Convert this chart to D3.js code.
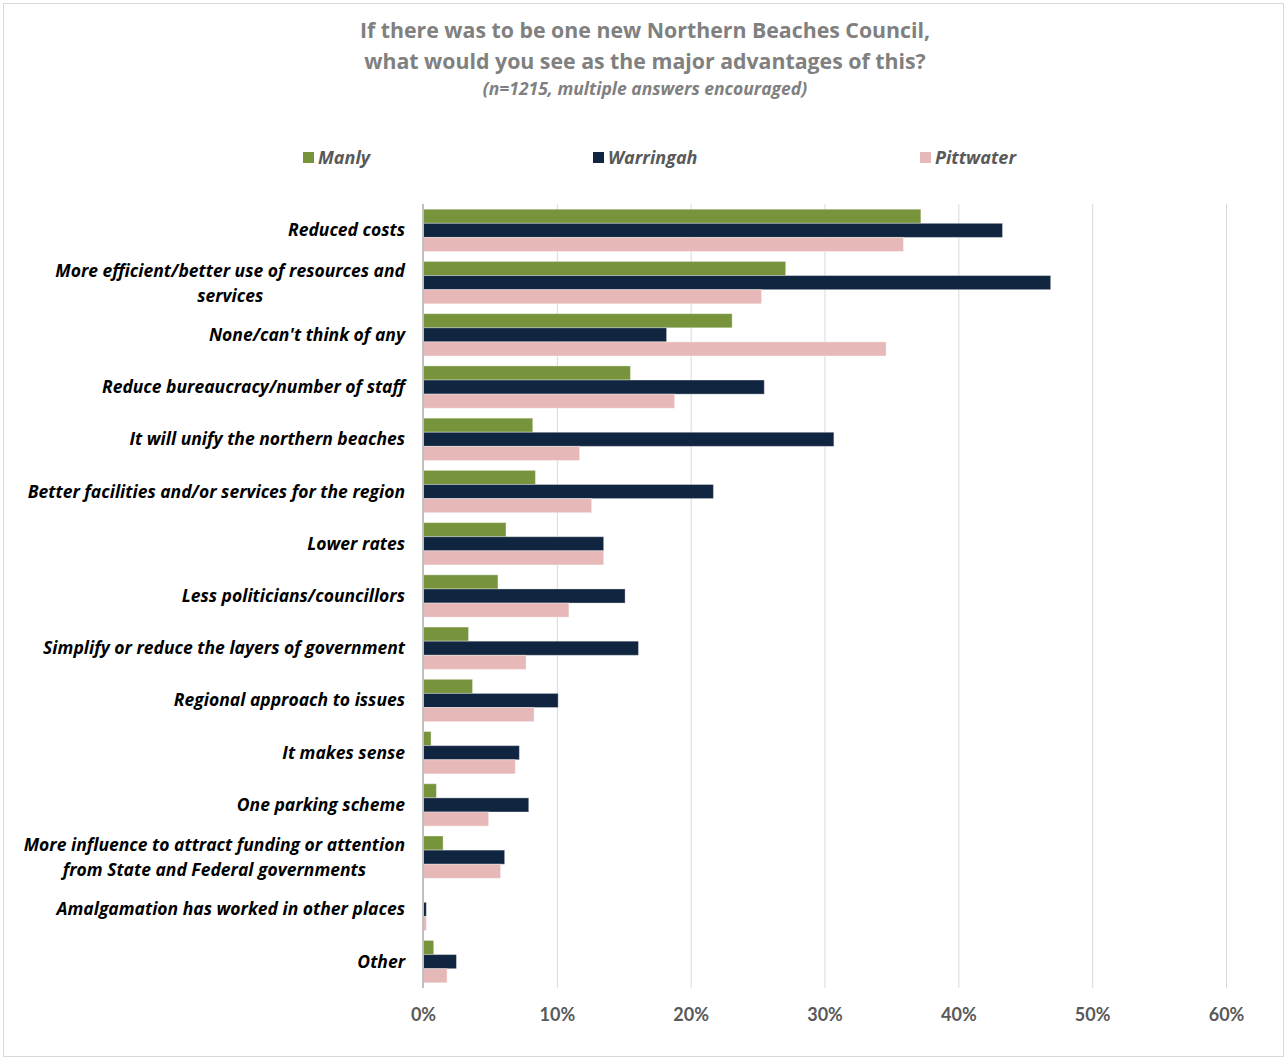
<!DOCTYPE html>
<html><head><meta charset="utf-8">
<script src="https://cdn.jsdelivr.net/npm/d3@7"></script>
<style>body{margin:0;background:#fff;} svg{display:block;}</style>
</head><body>
<script>
const categories = [
  ["Reduced costs"],
  ["More efficient/better use of resources and","services"],
  ["None/can't think of any"],
  ["Reduce bureaucracy/number of staff"],
  ["It will unify the northern beaches"],
  ["Better facilities and/or services for the region"],
  ["Lower rates"],
  ["Less politicians/councillors"],
  ["Simplify or reduce the layers of government"],
  ["Regional approach to issues"],
  ["It makes sense"],
  ["One parking scheme"],
  ["More influence to attract funding or attention","from State and Federal governments"],
  ["Amalgamation has worked in other places"],
  ["Other"]
];
const seriesNames = ["Manly","Warringah","Pittwater"];
const manly     = [37.2,27.1,23.1,15.5,8.2,8.4,6.2,5.6,3.4,3.7,0.6,1.0,1.5,0,0.8];
const warringah = [43.3,46.9,18.2,25.5,30.7,21.7,13.5,15.1,16.1,10.1,7.2,7.9,6.1,0.25,2.5];
const pittwater = [35.9,25.3,34.6,18.8,11.7,12.6,13.5,10.9,7.7,8.3,6.9,4.9,5.8,0.25,1.8];
const xTicks = [0,10,20,30,40,50,60];
const colors = ["#77933c","#10253f","#e6b9b8"];

(function(){
const W = 1287, H = 1059;
const font = "'Open Sans', Lato, sans-serif";
const tickFont = "Lato, sans-serif";
const svg = d3.select("body").append("svg").attr("width", W).attr("height", H);
svg.append("rect").attr("x",3.5).attr("y",3.5).attr("width",W-7).attr("height",H-6)
  .attr("fill","#fff").attr("stroke","#d9d9d9");

const pLeft = 423, pRight = 1226, pTop = 204, pBottom = 988;
const x = d3.scaleLinear().domain([0,60]).range([pLeft,pRight]);
const y = d3.scaleBand().domain(d3.range(categories.length)).range([pTop,pBottom]).paddingInner(0.19).paddingOuter(0.1);
const ys = d3.scaleBand().domain(seriesNames).range([0,y.bandwidth()]);

svg.append("text").attr("x",645).attr("y",38).attr("text-anchor","middle")
  .attr("font-family",font).attr("font-weight","bold").attr("font-size",21.3).attr("fill","#808080")
  .text("If there was to be one new Northern Beaches Council,");
svg.append("text").attr("x",645).attr("y",69).attr("text-anchor","middle")
  .attr("font-family",font).attr("font-weight","bold").attr("font-size",21.3).attr("fill","#808080")
  .text("what would you see as the major advantages of this?");
svg.append("text").attr("x",645).attr("y",95).attr("text-anchor","middle")
  .attr("font-family",font).attr("font-weight","bold").attr("font-style","italic").attr("font-size",17.5).attr("fill","#808080")
  .text("(n=1215, multiple answers encouraged)");

const legX = [303, 593, 920];
seriesNames.forEach((s,i)=>{
  svg.append("rect").attr("x",legX[i]).attr("y",152).attr("width",11).attr("height",11).attr("fill",colors[i]);
  svg.append("text").attr("x",legX[i]+15).attr("y",164).attr("font-family",font).attr("font-weight","bold")
    .attr("font-style","italic").attr("font-size",18).attr("fill","#595959").text(s);
});

svg.append("g").selectAll("line").data(xTicks.slice(1)).join("line")
  .attr("x1",d=>x(d)+0.5).attr("x2",d=>x(d)+0.5).attr("y1",pTop).attr("y2",pBottom)
  .attr("stroke","#d9d9d9").attr("stroke-width",1);

const all = [manly, warringah, pittwater];
const g = svg.append("g");
categories.forEach((c,ci)=>{
  seriesNames.forEach((s,si)=>{
    const v = all[si][ci];
    if (v <= 0) return;
    g.append("rect").attr("x",x(0)).attr("y",y(ci)+ys(s))
      .attr("width",x(v)-x(0)).attr("height",ys.bandwidth())
      .attr("fill",colors[si]).attr("stroke","#ffffff").attr("stroke-opacity",0.35).attr("stroke-width",1);
  });
});

svg.append("line").attr("x1",x(0)).attr("x2",x(0)).attr("y1",pTop).attr("y2",pBottom)
  .attr("stroke","#bfbfbf").attr("stroke-width",2);

const xAxis = d3.axisBottom(x).tickValues(xTicks).tickFormat(d=>d+"%").tickSize(0);
const ax = svg.append("g").attr("transform",`translate(0,${pBottom+17})`).call(xAxis);
ax.select(".domain").remove();
ax.selectAll("text").attr("font-family",tickFont).attr("font-weight","bold").attr("font-size",18).attr("fill","#595959");

const labelX = 405;
categories.forEach((lines,ci)=>{
  const cy = y(ci) + y.bandwidth()/2;
  const t = svg.append("text").attr("font-family",font).attr("font-weight","bold").attr("font-style","italic")
    .attr("font-size",17.5).attr("fill","#000");
  if (lines.length === 1) {
    t.attr("x",labelX).attr("y",cy+6).attr("text-anchor","end").text(lines[0]);
  } else {
    t.attr("x",labelX).attr("y",cy-6).attr("text-anchor","end").text(lines[0]);
    const w = t.node().getComputedTextLength();
    svg.append("text").attr("font-family",font).attr("font-weight","bold").attr("font-style","italic")
      .attr("font-size",17.5).attr("fill","#000").attr("text-anchor","middle")
      .attr("x",labelX - w/2).attr("y",cy+19).text(lines[1]);
  }
});
})();
</script>
</body></html>
